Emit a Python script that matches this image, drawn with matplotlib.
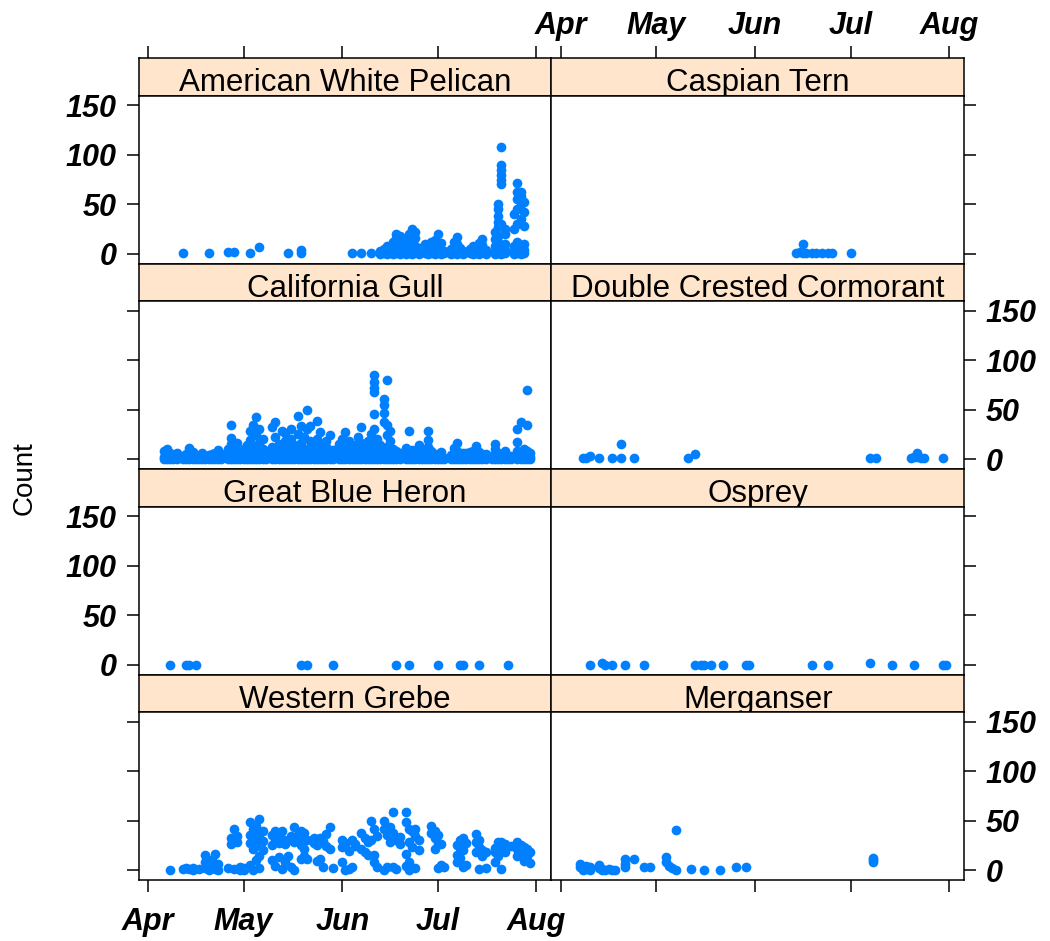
import matplotlib
matplotlib.use("Agg")
import matplotlib.pyplot as plt

# ---------------- data (days since 1 April, counts per survey) ----------------
month_days = [0, 30, 61, 91, 122]
month_labels = ["Apr", "May", "Jun", "Jul", "Aug"]

pelican_days = [11, 19, 25, 27, 32, 35, 44, 48, 64, 67, 70, 73, 74, 75, 77, 78, 79, 80, 81,
                82, 83, 84, 85, 87, 88, 89, 90, 91, 92, 93, 95, 96, 97, 98, 99, 101, 102,
                103, 104, 105, 106, 109, 110, 111, 112, 115, 116, 117, 118]
pelican_counts = [[1], [1], [2], [2], [1], [7], [1], [1, 4], [1], [1], [1], [0, 3], [1, 5],
                  [0, 2, 8], [0, 4, 12], [1, 6, 16, 20], [0, 3, 10, 18], [2, 7], [0, 5, 14],
                  [1, 9, 20], [0, 4, 12, 25], [2, 8, 16, 22], [0, 3, 6], [1, 5, 10], [0, 2, 8],
                  [1, 4, 12], [0, 6, 14], [2, 9, 20], [0, 4, 11], [1, 3], [0, 2, 5], [1, 7, 12],
                  [0, 4, 10, 17], [2, 6], [0, 3], [1, 5], [0, 2, 8], [1, 4], [0, 6, 11],
                  [2, 9, 15], [0, 4], [0, 3, 8, 15, 22], [1, 5, 12, 18, 27, 32, 38, 45, 50],
                  [0, 2, 7, 30, 70, 75, 80, 85, 90, 108], [1, 4, 10, 20, 25], [0, 3, 8, 25, 40],
                  [1, 5, 12, 30, 45, 55, 62, 71], [0, 2, 6, 35, 50, 58, 62], [1, 4, 10, 28, 42, 52]]

tern_days = [74, 75, 76, 77, 79, 80, 82, 84, 85, 91]
tern_counts = [[1], [2], [10, 1], [1], [1], [1], [1], [1], [1], [1]]

gull_days = [5, 6, 7, 8, 9, 11, 12, 13, 14, 15, 16, 17, 18, 19, 20, 21, 22, 23, 25, 26, 27, 28,
             29, 30, 31, 32, 33, 34, 35, 36, 37, 39, 40, 41, 42, 43, 44, 45, 46, 47, 48, 49, 50,
             51, 52, 53, 54, 55, 56, 57, 58, 60, 61, 62, 63, 64, 65, 66, 67, 68, 69, 70, 71, 72,
             73, 74, 75, 76, 77, 78, 79, 81, 82, 83, 84, 85, 86, 87, 88, 89, 90, 91, 92, 93, 95,
             96, 97, 98, 99, 100, 101, 102, 103, 104, 105, 106, 108, 109, 110, 111, 112, 113, 114,
             116, 117, 118, 119, 120]
gull_counts = [[0, 2, 8], [0, 3, 10], [0, 1, 6], [0, 4], [0, 2, 6], [0, 3], [0, 5], [0, 2, 11],
               [0, 7], [0, 1, 4], [0, 2], [0, 3, 6], [0, 1], [0, 4], [0, 2, 5], [0, 6], [0, 3, 9],
               [0, 1, 5], [0, 4, 10], [0, 6, 15, 21, 35], [0, 3, 12], [0, 8, 16], [0, 2, 5],
               [0, 4, 10], [0, 6, 14], [0, 2, 19, 28], [0, 5, 12, 35], [0, 8, 43, 24],
               [0, 3, 16, 30], [0, 6, 10, 20], [0, 2, 8], [0, 4, 12, 32], [0, 7, 22, 38],
               [0, 3, 9, 15], [0, 9, 28, 4], [0, 5, 18, 26], [0, 2, 7, 12], [0, 6, 20, 30],
               [0, 3, 8, 14], [0, 8, 44, 25, 4], [0, 4, 10, 16, 34], [0, 5, 10, 22],
               [0, 2, 7, 50, 30], [0, 6, 11, 18, 34], [0, 3, 7, 12], [0, 8, 39, 20, 4],
               [0, 5, 27, 14, 9], [0, 2, 6, 10], [0, 7, 12, 18], [0, 4, 9, 24], [0, 2, 9],
               [0, 5, 10, 15], [0, 8, 4, 20], [0, 3, 27, 12, 7], [0, 6, 18, 11], [0, 2, 6, 10],
               [0, 5, 9, 14], [0, 8, 4, 22], [0, 3, 32, 16, 8], [0, 6, 12], [0, 2, 7, 18],
               [0, 10, 5, 25], [0, 5, 46, 85, 78, 72, 68, 30, 15, 10], [0, 3, 8, 20],
               [0, 8, 4, 14], [0, 4, 38, 55, 61, 47, 9], [0, 12, 80, 24, 35, 5], [0, 6, 18, 28, 10],
               [0, 2, 6, 10], [0, 5, 8], [0, 3, 6], [0, 6, 11], [0, 2, 28, 7], [0, 4, 9], [0, 7, 3],
               [0, 3, 14, 8], [0, 5], [0, 2, 10], [0, 28, 19, 12, 6], [0, 4, 8], [0, 2, 5], [0, 5],
               [0, 3, 7], [0, 1], [0, 4], [0, 7, 11], [0, 16, 3, 8], [0, 5], [0, 2, 6], [0, 6],
               [0, 3, 7], [0, 8], [0, 13, 4], [0, 7], [0, 2, 5], [0, 5], [0, 3], [0, 10, 15, 5],
               [0, 6], [0, 2], [0, 4, 8], [0, 1], [0, 3], [0, 8, 17, 30], [0, 38, 5], [0, 3, 10],
               [0, 70, 35, 8], [0, 2, 6]]

cormorant_days = [7, 8, 9, 12, 16, 19, 23, 40, 42, 97, 99, 110, 111, 112, 113, 114, 120]
cormorant_counts = [[1], [1], [3], [1], [1], [1, 15], [1], [1], [5], [1], [1], [1], [2], [6, 2],
                    [1], [1], [1]]

heron_days = [7, 12, 13, 15, 48, 50, 58, 78, 82, 91, 98, 99, 104, 113]
heron_counts = [[0], [0], [0], [0], [0], [0], [0], [0], [0], [0], [0], [0], [0], [0]]

osprey_days = [9, 13, 14, 16, 20, 26, 42, 44, 45, 47, 51, 58, 59, 79, 84, 97, 104, 111, 120, 121]
osprey_counts = [[0], [2], [0], [0], [0], [0], [0], [0], [0], [0], [0], [0], [0], [0], [0],
                 [2], [0], [0], [0], [0]]

grebe_days = [7, 11, 12, 13, 14, 16, 18, 19, 20, 21, 22, 25, 26, 27, 28, 29, 30, 32, 33, 34, 35,
              36, 39, 40, 41, 42, 43, 44, 45, 46, 47, 48, 49, 50, 52, 53, 54, 55, 56, 57, 58, 61,
              62, 63, 64, 65, 67, 68, 69, 70, 71, 72, 74, 75, 76, 77, 78, 79, 81, 82, 83, 84, 85,
              89, 90, 91, 92, 93, 97, 98, 99, 100, 103, 104, 105, 106, 109, 110, 111, 112, 114,
              116, 117, 118, 119, 120]
grebe_counts = [[0], [1], [2], [1], [0, 2], [1], [2, 8, 15], [0, 5], [3, 10], [1, 16], [0, 6],
                [2], [26, 33], [30, 42, 1], [35, 28], [3, 0], [0, 2], [49, 36, 27, 5],
                [42, 30, 21, 0], [38, 45, 24, 10], [52, 33, 2, 14], [40, 29, 20], [10, 25, 36],
                [40, 30, 4], [34, 27, 13], [40, 31, 1], [26, 8], [14, 30], [35, 3], [44, 28, 0],
                [36, 31], [40, 25, 11], [38, 21, 14], [30, 11], [27, 33], [25, 9], [33, 11, 30],
                [29, 3], [37, 24], [44, 21], [2], [23, 30, 8], [25, 27, 0], [19, 1], [30, 3],
                [26, 24], [38, 21], [33, 18], [28, 15], [50, 30], [42, 15, 8], [35, 3],
                [50, 42, 0], [36, 3], [44, 28], [59, 38, 3], [30, 1], [34, 26], [59, 49, 16, 4],
                [42, 28, 8, 0], [40, 23], [42, 35, 2], [30, 20], [45, 38], [40, 33, 21],
                [36, 27, 2], [26, 5], [3], [25, 15, 8], [30, 22, 12], [33, 20, 3], [27, 5],
                [37, 28, 18], [30, 23, 1], [14, 20], [18, 2], [22, 18, 8], [28, 25, 14],
                [28, 20, 1], [26, 18], [24], [28, 21, 14], [25, 18], [23, 9], [21, 14], [18, 7]]

merganser_days = [6, 7, 8, 9, 12, 13, 14, 15, 16, 17, 20, 23, 26, 28, 33, 34, 35, 36, 41, 45,
                  50, 55, 58, 98]
merganser_counts = [[6, 3], [0, 2], [1, 4], [0, 3], [5, 2], [0, 1], [0], [1], [0], [0],
                    [11, 6, 3], [11], [3], [3], [13, 8], [4], [2], [41, 0], [1], [0], [0], [3],
                    [3], [12, 10, 8]]

y_ticks = [0, 50, 100, 150]

panels = [
    [("American White Pelican", pelican_days, pelican_counts),
     ("Caspian Tern", tern_days, tern_counts)],
    [("California Gull", gull_days, gull_counts),
     ("Double Crested Cormorant", cormorant_days, cormorant_counts)],
    [("Great Blue Heron", heron_days, heron_counts),
     ("Osprey", osprey_days, osprey_counts)],
    [("Western Grebe", grebe_days, grebe_counts),
     ("Merganser", merganser_days, merganser_counts)],
]

# ---------------- layout ----------------
W, H = 1050, 941
fig = plt.figure(figsize=(W / 100, H / 100), dpi=100)
L, R = 138.6, 964.3
TOP, BOT = 58.0, 880.0
colw = (R - L) / 2
rowh = (BOT - TOP) / 4
striph = 37.5
XLIM = (-2.96, 126.7)
YLIM = (-10, 160)
PT_COLOR = "#0080FF"
STRIP_COLOR = "#FFE5CC"
TICK_FONT = dict(family="Liberation Sans", weight="bold", style="italic", size=22)
LW = 1.1
TICKLEN = 8.6


def frac(x0, y0, w, h):
    return [x0 / W, 1 - (y0 + h) / H, w / W, h / H]


for r in range(4):
    for c in range(2):
        name, days, counts = panels[r][c]
        x0 = L + c * colw
        ys = TOP + r * rowh
        sax = fig.add_axes(frac(x0, ys, colw, striph))
        pax = fig.add_axes(frac(x0, ys + striph, colw, rowh - striph))

        # strip
        sax.set_facecolor(STRIP_COLOR)
        sax.set_xlim(*XLIM)
        sax.set_ylim(0, 1)
        sax.set_yticks([])
        for s in sax.spines.values():
            s.set_linewidth(LW)
        sax.text(0.5, 0.11, name, transform=sax.transAxes, ha="center", va="baseline",
                 fontsize=22.5, family="Liberation Sans")
        if r == 0:
            sax.xaxis.tick_top()
            sax.set_xticks(month_days)
            if c == 1:
                sax.set_xticklabels(month_labels, fontdict=TICK_FONT)
            else:
                sax.set_xticklabels([])
            sax.tick_params(axis="x", direction="out", length=TICKLEN, width=LW, pad=4)
        else:
            sax.set_xticks([])

        # points
        xs, ysv = [], []
        for d, cl in zip(days, counts):
            for v in cl:
                xs.append(d)
                ysv.append(v)
        pax.plot(xs, ysv, "o", color=PT_COLOR, ms=7.0, mew=0, clip_on=False)
        pax.set_xlim(*XLIM)
        pax.set_ylim(*YLIM)
        for s in pax.spines.values():
            s.set_linewidth(LW)

        # y ticks
        pax.set_yticks(y_ticks)
        if c == 0:
            pax.yaxis.tick_left()
            show = (r % 2 == 0)
        else:
            pax.yaxis.tick_right()
            show = (r % 2 == 1)
        if show:
            pax.set_yticklabels([str(t) for t in y_ticks], fontdict=TICK_FONT)
        else:
            pax.set_yticklabels([])
        pax.tick_params(axis="y", direction="out", length=TICKLEN, width=LW, pad=7)

        # x ticks
        if r == 3:
            pax.set_xticks(month_days)
            if c == 0:
                pax.set_xticklabels(month_labels, fontdict=TICK_FONT)
            else:
                pax.set_xticklabels([])
            pax.tick_params(axis="x", direction="out", length=TICKLEN, width=LW, pad=11)
        else:
            pax.set_xticks([])

fig.text(25 / W, 1 - 478 / H, "Count", rotation=90, ha="center", va="center",
         fontsize=20, family="Liberation Sans")

fig.savefig("out.png", dpi=100)
